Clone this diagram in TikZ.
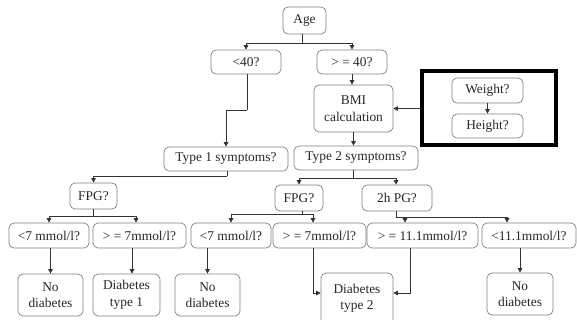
\documentclass[tikz,border=0pt]{standalone}
\usepackage{fontspec}
\setmainfont{Liberation Serif}
\usetikzlibrary{arrows.meta}
\begin{document}
\begin{tikzpicture}[x=1pt,y=-1pt,
  box/.style={draw=black!50, line width=0.7pt, rounded corners=5pt, inner sep=0pt,
    align=center, font=\fontsize{13.4}{16.5}\selectfont, text=black!85},
  conn/.style={draw=black!80, line width=0.75pt},
  arr/.style={conn, -{Triangle[length=4.5pt,width=4.5pt]}}]
\useasboundingbox (0,0) rectangle (577,320);
% nodes
\node[box, minimum width=43pt, minimum height=27pt] (age) at (304.5,20.5) {Age};
\node[box, minimum width=70pt, minimum height=24pt] (lt40) at (246,62) {<40?};
\node[box, minimum width=70pt, minimum height=24pt] (ge40) at (352,62) {> = 40?};
\node[box, minimum width=79pt, minimum height=47pt] (bmi) at (353.5,108.5) {BMI\\calculation};
\node[box, minimum width=124pt, minimum height=24pt] (t2) at (356,158) {Type 2 symptoms?};
\node[draw=black, line width=4.5pt, inner sep=0pt, minimum width=134pt, minimum height=74pt] (frame) at (489,108) {};
\node[box, minimum width=71pt, minimum height=25pt] (weight) at (487.5,90.5) {Weight?};
\node[box, minimum width=71pt, minimum height=24pt] (height) at (487.5,126) {Height?};
\node[box, minimum width=124pt, minimum height=24pt] (t1) at (226,159) {Type 1 symptoms?};
\node[box, minimum width=47pt, minimum height=26pt] (fpg1) at (93.5,196) {FPG?};
\node[box, minimum width=48pt, minimum height=26pt] (fpg2) at (299,198) {FPG?};
\node[box, minimum width=70pt, minimum height=26pt] (h2pg) at (397,198) {2h PG?};
\node[box, minimum width=80pt, minimum height=25pt] (lt7a) at (49,235.5) {<7 mmol/l?};
\node[box, minimum width=93pt, minimum height=25pt] (ge7a) at (139.5,235.5) {> = 7mmol/l?};
\node[box, minimum width=80pt, minimum height=25pt] (lt7b) at (231,235.5) {<7 mmol/l?};
\node[box, minimum width=93pt, minimum height=25pt] (ge7b) at (319.5,235.5) {> = 7mmol/l?};
\node[box, minimum width=111pt, minimum height=25pt] (ge11) at (422.5,235.5) {> = 11.1mmol/l?};
\node[box, minimum width=94pt, minimum height=25pt] (lt11) at (529,235.5) {<11.1mmol/l?};
\node[box, minimum width=65pt, minimum height=42pt] (nd1) at (50.5,295) {No\\diabetes};
\node[box, minimum width=67pt, minimum height=42pt] (dt1) at (126.5,295) {Diabetes\\type 1};
\node[box, minimum width=65pt, minimum height=42pt] (nd2) at (207.5,295) {No\\diabetes};
\node[box, minimum width=72pt, minimum height=54pt, text depth=6pt] (dt2) at (357,300) {Diabetes\\type 2};
\node[box, minimum width=66pt, minimum height=42pt] (nd3) at (520,294) {No\\diabetes};
% junction coordinates
\coordinate (ja) at (302,43);
\coordinate (jb) at (247,110);
\coordinate (jc) at (227,176);
\coordinate (jd) at (93.5,216);
\coordinate (je) at (353,178);
\coordinate (jf) at (302,214);
\coordinate (jg) at (396,217);
\coordinate (jh) at (313,293);
\coordinate (ji) at (410,293);
% connectors
\draw[conn] (ja |- age.south) -- (ja);
\draw[arr] (ja) -| (lt40);
\draw[arr] (ja) -| (ge40);
\draw[arr] (ge40.south) -- (ge40.south |- bmi.north);
\draw[arr] (bmi.south) -- (bmi.south |- t2.north);
\draw[arr] (frame.west |- bmi) -- (bmi.east);
\draw[arr] (weight) -- (height);
\draw[conn] (jb |- lt40.south) -- (jb);
\draw[arr] (jb) -| (t1);
\draw[conn] (jc |- t1.south) -- (jc);
\draw[arr] (jc) -| (fpg1);
\draw[conn] (fpg1.south) -- (jd);
\draw[arr] (jd) -| (lt7a);
\draw[arr] (jd) -| ([xshift=-3.5pt]ge7a.north);
\draw[conn] (je |- t2.south) -- (je);
\draw[arr] (je) -| (fpg2);
\draw[arr] (je) -| ([xshift=-1pt]h2pg.north);
\draw[conn] (jf |- fpg2.south) -- (jf);
\draw[arr] (jf) -| (lt7b);
\draw[arr] (jf) -| ([xshift=-6.5pt]ge7b.north);
\draw[conn] (jg |- h2pg.south) -- (jg);
\draw[arr] (jg) -| ([xshift=-17.5pt]ge11.north);
\draw[arr] (jg) -| ([xshift=-22pt]lt11.north);
\draw[arr] (nd1.north |- lt7a.south) -- (nd1.north);
\draw[arr] ([xshift=5.5pt]dt1.north |- ge7a.south) -- ([xshift=5.5pt]dt1.north);
\draw[arr] (nd2.north |- lt7b.south) -- (nd2.north);
\draw[arr] (nd3.north |- lt11.south) -- (nd3.north);
\draw[arr] (jh |- ge7b.south) -- (jh) -- (jh -| dt2.west);
\draw[arr] (ji |- ge11.south) -- (ji) -- (ji -| dt2.east);
\end{tikzpicture}
\end{document}
